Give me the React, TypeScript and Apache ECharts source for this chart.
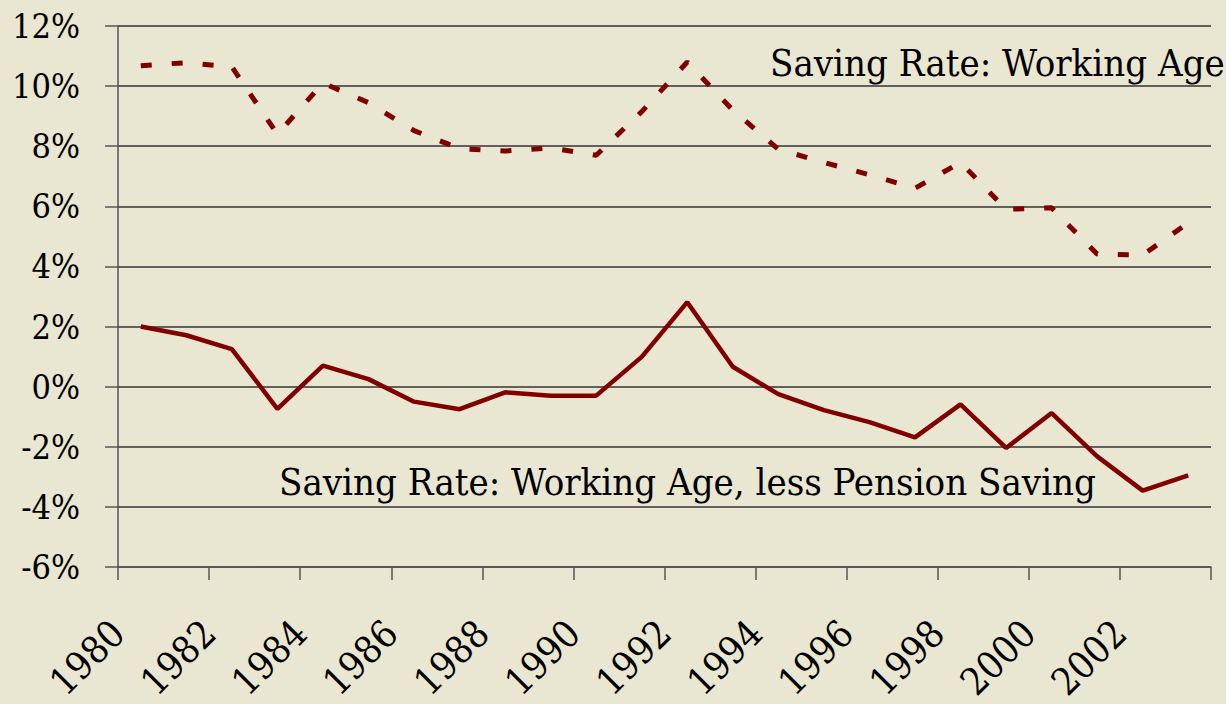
import React, { useEffect, useRef } from "react";
import * as echarts from "echarts";

const years = [
  "1980", "1981", "1982", "1983", "1984", "1985", "1986", "1987",
  "1988", "1989", "1990", "1991", "1992", "1993", "1994", "1995",
  "1996", "1997", "1998", "1999", "2000", "2001", "2002", "2003",
];

// Saving Rate: Working Age (dotted)
const workingAge = [
  10.68, 10.78, 10.64, 8.4, 10.1, 9.45, 8.52, 7.92,
  7.84, 7.94, 7.7, 9.15, 10.8, 9.2, 7.9, 7.46,
  7.05, 6.6, 7.46, 5.9, 5.95, 4.41, 4.38, 5.45,
];

// Saving Rate: Working Age, less Pension Saving (solid)
const lessPension = [
  2.0, 1.71, 1.25, -0.74, 0.7, 0.25, -0.5, -0.75,
  -0.19, -0.3, -0.3, 0.99, 2.81, 0.66, -0.25, -0.78,
  -1.18, -1.69, -0.59, -2.04, -0.88, -2.32, -3.46, -2.95,
];

// boundary labels (tick positions between years)
const boundaryLabels = [...years, "2004"];

const labelTop = "Saving Rate: Working Age";
const labelBottom = "Saving Rate: Working Age, less Pension Saving";

const FONT = "DejaVu Serif Condensed, DejaVu Serif";
const BG = "#E9E6D1";
const RED = "#800000";

export default function App() {
  const ref = useRef<HTMLDivElement>(null);

  useEffect(() => {
    if (!ref.current) return;
    const chart = echarts.init(ref.current, null, { renderer: "svg" });
    chart.setOption({
      animation: false,
      backgroundColor: BG,
      grid: { left: 118, right: 15, top: 26, bottom: 135, containLabel: false },
      xAxis: [
        {
          type: "category",
          data: years,
          boundaryGap: true,
          axisLine: { show: false },
          axisTick: { show: false },
          axisLabel: { show: false },
          splitLine: { show: false },
        },
        {
          type: "category",
          data: boundaryLabels,
          boundaryGap: false,
          position: "bottom",
          axisLine: { show: true, lineStyle: { color: "#555", width: 1.5 } },
          axisTick: {
            show: true,
            interval: 1,
            length: 13,
            lineStyle: { color: "#555", width: 1.5 },
          },
          axisLabel: {
            show: true,
            interval: (i: number, v: string) => i % 2 === 0 && v !== "2004",
            rotate: 45,
            margin: 60,
            color: "#000",
            fontFamily: FONT,
            fontSize: 38,
          },
          splitLine: { show: false },
        },
      ],
      yAxis: {
        type: "value",
        min: -6,
        max: 12,
        interval: 2,
        axisLine: { show: true, lineStyle: { color: "#555", width: 1.5 } },
        axisTick: { show: true, length: 13, lineStyle: { color: "#555", width: 1.5 } },
        axisLabel: {
          formatter: "{value}%",
          margin: 38,
          color: "#000",
          fontFamily: FONT,
          fontSize: 34,
        },
        splitLine: { show: true, lineStyle: { color: "#333", width: 1.5 } },
      },
      series: [
        {
          type: "line",
          name: labelTop,
          xAxisIndex: 0,
          data: workingAge,
          symbol: "none",
          lineStyle: { color: RED, width: 5, type: [11, 20], cap: "butt" },
          z: 3,
        },
        {
          type: "line",
          name: labelBottom,
          xAxisIndex: 0,
          data: lessPension,
          symbol: "none",
          lineStyle: { color: RED, width: 4.5 },
          z: 3,
        },
      ],
      graphic: [
        {
          type: "text",
          x: 770,
          y: 63,
          z: 10,
          style: {
            text: labelTop,
            fontFamily: FONT,
            fontSize: 38,
            fill: "#000",
            textAlign: "left",
            textVerticalAlign: "middle",
            align: "left",
            verticalAlign: "middle",
          },
        },
        {
          type: "text",
          x: 279,
          y: 482,
          z: 10,
          style: {
            text: labelBottom,
            fontFamily: FONT,
            fontSize: 38,
            fill: "#000",
            textAlign: "left",
            textVerticalAlign: "middle",
            align: "left",
            verticalAlign: "middle",
          },
        },
      ],
    });
    return () => chart.dispose();
  }, []);

  return (
    <div
      ref={ref}
      style={{ position: "fixed", left: 0, top: 0, width: 1226, height: 704, background: BG }}
    />
  );
}
